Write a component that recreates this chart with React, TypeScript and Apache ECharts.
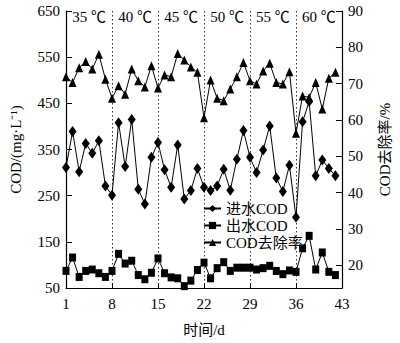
import React, { useEffect, useRef } from 'react';
import * as echarts from 'echarts';

const days: string[] = Array.from({ length: 43 }, (_, i) => String(i + 1));
const xTickLabels = ['1', '8', '15', '22', '29', '36', '43'];
const tempLabels = ['35 ℃', '40 ℃', '45 ℃', '50 ℃', '55 ℃', '60 ℃'];
const leftTicks = [50, 150, 250, 350, 450, 550, 650];
const rightTicks = [20, 30, 40, 50, 60, 70, 80, 90];

const influent = [
  311, 389, 302, 363, 342, 369, 271, 251, 408, 313,
  415, 264, 232, 333, 365, 306, 268, 360, 243, 261,
  309, 268, 261, 271, 307, 262, 329, 391, 333, 300,
  349, 401, 288, 259, 316, 203, 410, 454, 293, 327,
  309, 293,
];
const effluent = [
  87, 116, 74, 87, 90, 82, 74, 87, 124, 103,
  109, 78, 69, 83, 114, 82, 73, 71, 54, 66,
  89, 105, 71, 93, 106, 87, 94, 94, 94, 90,
  93, 98, 87, 80, 88, 85, 136, 163, 90, 127,
  85, 78,
];
const removal = [
  71.9, 70.3, 74.4, 76.1, 74.0, 78.1, 71.2, 66.0, 69.4, 67.1,
  74.0, 70.8, 69.1, 74.9, 68.8, 72.4, 71.9, 78.3, 76.5, 74.6,
  73.1, 60.6, 71.0, 66.0, 65.3, 68.5, 71.9, 75.8, 70.8, 69.9,
  73.5, 75.6, 70.3, 69.9, 73.3, 56.3, 66.6, 66.2, 70.3, 63.0,
  71.5, 73.1,
];

const FONT = "'Liberation Serif', 'Times New Roman', 'Noto Sans CJK SC', serif";
const BLACK = '#000';

export default function App() {
  const ref = useRef<HTMLDivElement>(null);
  useEffect(() => {
    document.body.style.margin = '0';
    const chart = echarts.init(ref.current!, null, { renderer: 'svg' });
    const baseAxisLine = { show: true, lineStyle: { color: BLACK, width: 1.2 } };
    const option: any = {
      animation: false,
      backgroundColor: '#fff',
      textStyle: { fontFamily: FONT, color: BLACK },
      grid: { left: 61, right: 52, top: 11, bottom: 55 },
      legend: {
        orient: 'vertical',
        left: 198,
        top: 196,
        itemWidth: 17,
        itemHeight: 9,
        itemGap: 2,
        textStyle: { fontFamily: FONT, fontSize: 15, color: BLACK },
        data: ['进水COD', '出水COD', 'COD去除率'],
      },
      xAxis: {
        type: 'category',
        data: days,
        boundaryGap: false,
        name: '时间/d',
        nameLocation: 'middle',
        nameGap: 34,
        nameTextStyle: { fontFamily: FONT, fontSize: 15, color: BLACK },
        axisLine: baseAxisLine,
        axisTick: { show: true, inside: true, length: 5, interval: 6, lineStyle: { color: BLACK } },
        axisLabel: {
          interval: 6,
          margin: 8,
          fontFamily: FONT,
          fontSize: 15,
          color: BLACK,
          formatter: (v: string) => (xTickLabels.includes(v) ? v : ''),
        },
        splitLine: { show: true, interval: 6, lineStyle: { color: '#333', type: [1.5, 2.5], width: 1 } },
      },
      yAxis: [
        {
          type: 'value',
          min: 50,
          max: 650,
          position: 'left',
          name: 'COD/(mg·L⁻¹)',
          nameLocation: 'middle',
          nameGap: 43,
          nameRotate: 90,
          nameTextStyle: { fontFamily: FONT, fontSize: 15, color: BLACK },
          axisLine: baseAxisLine,
          axisTick: { show: true, inside: true, length: 6, customValues: leftTicks, lineStyle: { color: BLACK } },
          axisLabel: { customValues: leftTicks, margin: 6, fontFamily: FONT, fontSize: 15, color: BLACK },
          splitLine: { show: false },
        },
        {
          type: 'value',
          min: 13.7,
          max: 90,
          position: 'right',
          name: 'COD去除率/%',
          nameLocation: 'middle',
          nameGap: 35,
          nameRotate: 90,
          nameTextStyle: { fontFamily: FONT, fontSize: 15, color: BLACK },
          axisLine: baseAxisLine,
          axisTick: { show: true, inside: true, length: 6, customValues: rightTicks, lineStyle: { color: BLACK } },
          axisLabel: { customValues: rightTicks, margin: 6, fontFamily: FONT, fontSize: 15, color: BLACK },
          splitLine: { show: false },
        },
      ],
      series: [
        {
          name: '进水COD',
          type: 'line',
          yAxisIndex: 0,
          data: influent,
          showAllSymbol: true,
          symbol: 'diamond',
          symbolSize: [8, 11],
          itemStyle: { color: BLACK },
          lineStyle: { color: BLACK, width: 1 },
          z: 3,
          markArea: {
            silent: true,
            itemStyle: { color: 'rgba(0,0,0,0)' },
            label: {
              show: true,
              position: 'insideTop',
              distance: -2,
              fontFamily: FONT,
              fontSize: 15,
              color: BLACK,
            },
            data: tempLabels.map((t, i) => [
              { name: t, xAxis: xTickLabels[i] },
              { xAxis: xTickLabels[i + 1] },
            ]),
          },
        },
        {
          name: '出水COD',
          type: 'line',
          yAxisIndex: 0,
          data: effluent,
          showAllSymbol: true,
          symbol: 'rect',
          symbolSize: [7, 8],
          itemStyle: { color: BLACK },
          lineStyle: { color: BLACK, width: 1 },
          z: 3,
        },
        {
          name: 'COD去除率',
          type: 'line',
          yAxisIndex: 1,
          data: removal,
          showAllSymbol: true,
          symbol: 'triangle',
          symbolSize: [8, 9],
          itemStyle: { color: BLACK },
          lineStyle: { color: BLACK, width: 1 },
          z: 3,
        },
      ],
    };
    chart.setOption(option);
    return () => chart.dispose();
  }, []);
  return (
    <div
      ref={ref}
      style={{ position: 'absolute', left: 0, top: 0, width: 400, height: 343, background: '#fff' }}
    />
  );
}
